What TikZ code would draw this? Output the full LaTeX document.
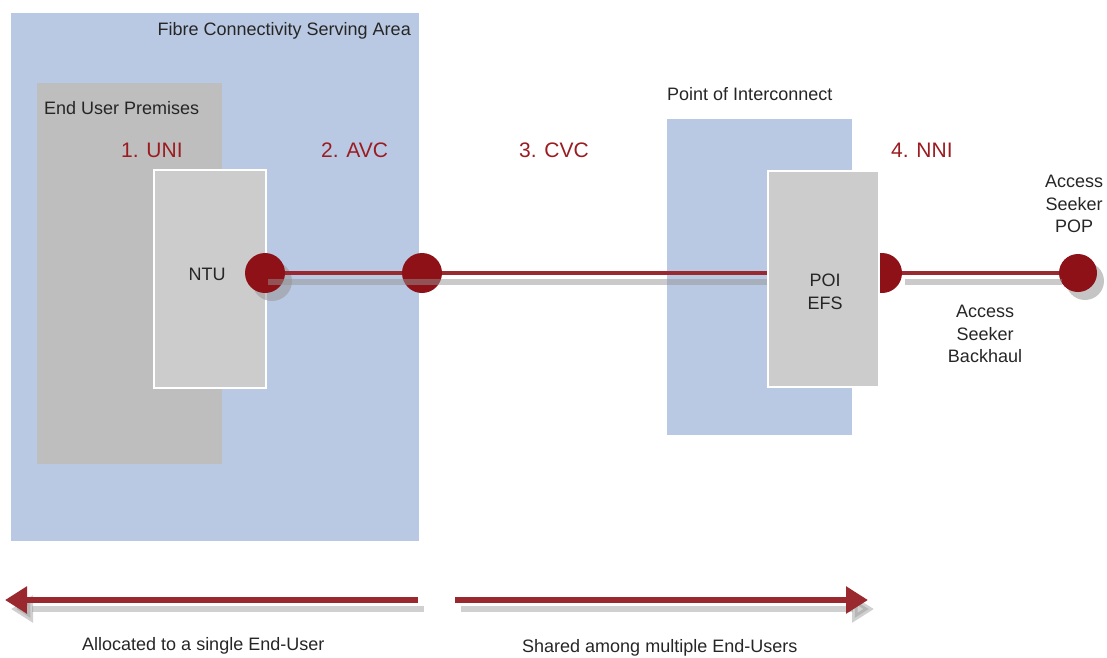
\documentclass[tikz,border=0pt]{standalone}
\usepackage{fontspec}
\setmainfont{Liberation Sans}
\usetikzlibrary{arrows.meta}
\definecolor{areablue}{RGB}{186,201,227}
\definecolor{premgray}{RGB}{190,190,190}
\definecolor{boxgray}{RGB}{204,204,204}
\definecolor{nbnred}{RGB}{142,17,23}
\definecolor{labelred}{RGB}{155,28,32}
\definecolor{shadowgray}{RGB}{150,150,150}

\begin{document}
\begin{tikzpicture}[x=1pt,y=-1pt,
    region/.style={draw=none,anchor=north west,inner sep=0pt},
    device/.style={fill=boxgray,draw=white,line width=2pt,anchor=north west,inner sep=0pt},
    port/.style={circle,fill=nbnred,inner sep=0pt,minimum size=40pt},
    portshadow/.style={circle,fill=shadowgray,opacity=0.55,inner sep=0pt,minimum size=40pt},
    link/.style={draw=nbnred!90,line width=4pt},
    linkshadow/.style={draw=shadowgray,opacity=0.5,line width=6pt},
    bigarrow/.style={draw=nbnred!90,line width=6pt,-{Triangle[length=22pt,width=26pt]}},
    bigshadow/.style={draw=shadowgray,opacity=0.45,line width=6pt,-{Triangle[length=22pt,width=26pt]}},
    txt/.style={font=\fontsize{18}{22.5}\selectfont,inner sep=0pt,text=black!85},
    iface/.style={font=\fontsize{21}{24}\selectfont,inner sep=0pt,text=labelred,anchor=base west}]
  \useasboundingbox (0,0) rectangle (1107,657);

  % serving area and premises
  \node[region,fill=areablue,minimum width=408pt,minimum height=528pt] (fsa) at (11,13) {};
  \node[region,fill=premgray,minimum width=185pt,minimum height=381pt] (prem) at (37,83) {};
  \node[device,minimum width=112pt,minimum height=218pt] (ntu) at (153,169) {};
  % point of interconnect
  \node[region,fill=areablue,minimum width=185pt,minimum height=316pt] (poiarea) at (667,119) {};

  \node[port] (nniport) at (882,273) {};

  \node[device,minimum width=111pt,minimum height=216pt] (poi) at (767,170) {};

  \node[txt,anchor=base east] (fsalabel) at (411,35) {Fibre Connectivity Serving Area};
  \node[txt,anchor=base west] (premlabel) at (44,114) {End User Premises};
  \node[txt,anchor=base west] (poilabel) at (667,100) {Point of Interconnect};
  \node[txt] (ntulabel) at (207,274) {NTU};
  \node[txt,align=center] (efslabel) at (825,292) {POI\\EFS};

  \node[iface] (uni) at (121,157) {1. UNI};
  \node[iface] (avc) at (321,157) {2. AVC};
  \node[iface] (cvc) at (519,157) {3. CVC};
  \node[iface] (nni) at (891,157) {4. NNI};

  % ports and links
  \node[portshadow] (ntushadow) at (272,281) {};
  \node[portshadow,minimum size=38pt] (popshadow) at (1085,281) {};
  \node[port] (ntuport) at (265,273) {};
  \node[port] (avcport) at (422,273) {};
  \node[port,minimum size=38pt] (pop) at (1078,273) {};
  \coordinate (cvcend) at (avcport -| poi.west);

  \draw[linkshadow] ([shift={(3,9)}]ntuport.center) -- ([shift={(0,9)}]cvcend);
  \draw[linkshadow] ([shift={(3,9)}]nniport.east) -- ([shift={(3,9)}]pop.west);
  \draw[link] (ntuport) -- (avcport);
  \draw[link] (avcport) -- (cvcend);
  \draw[link] (nniport) -- (pop);

  \node[txt,align=center] (poplabel) at (1074,204) {Access\\Seeker\\POP};
  \node[txt,align=center] (backhaul) at (985,334) {Access\\Seeker\\Backhaul};

  % scope of the circuits
  \coordinate (alloc0) at (418,600);
  \coordinate (alloc1) at (5,600);
  \coordinate (share0) at (455,600);
  \coordinate (share1) at (868,600);
  \draw[bigshadow] ([shift={(6,9)}]alloc0) -- ([shift={(6,9)}]alloc1);
  \draw[bigshadow] ([shift={(6,9)}]share0) -- ([shift={(6,9)}]share1);
  \draw[bigarrow] (alloc0) -- (alloc1);
  \draw[bigarrow] (share0) -- (share1);

  \node[txt,anchor=base west] (alloclabel) at (82,650) {Allocated to a single End-User};
  \node[txt,anchor=base west] (sharelabel) at (522,652) {Shared among multiple End-Users};
\end{tikzpicture}
\end{document}
